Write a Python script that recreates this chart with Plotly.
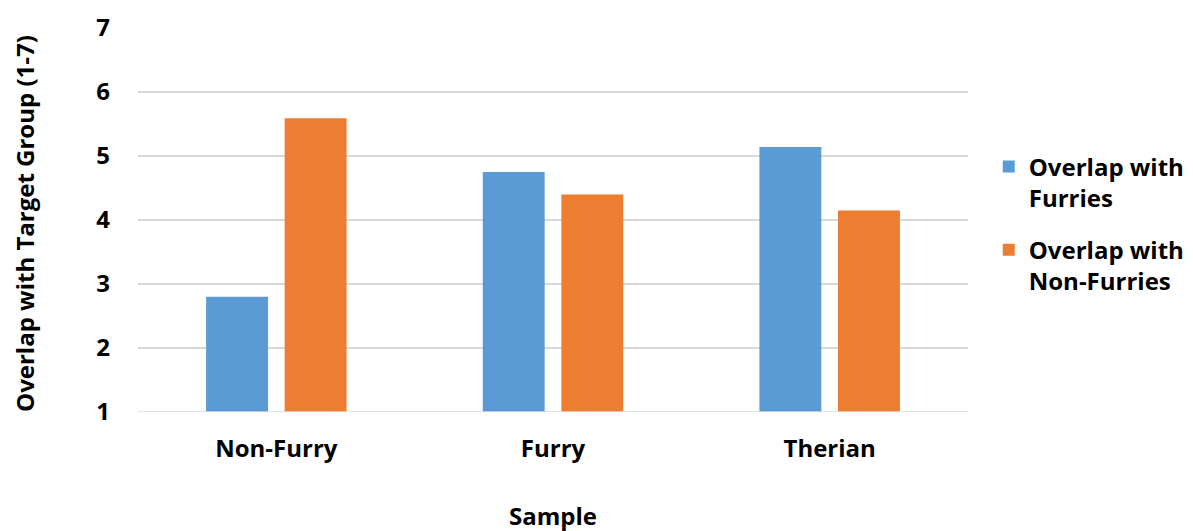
import plotly.graph_objects as go

categories = ["Non-Furry", "Furry", "Therian"]
overlap_furries = [2.8, 4.75, 5.14]
overlap_nonfurries = [5.59, 4.4, 4.15]
series_names = ["Overlap with<br>Furries", "Overlap with<br>Non-Furries"]
y_ticks = [1, 2, 3, 4, 5, 6, 7]

FONT = "Open Sans"
FS = 24
fig = go.Figure()
fig.add_trace(go.Bar(x=categories, y=overlap_furries, name=series_names[0], legendgroup="a",
                     marker=dict(color="#5B9BD5", line=dict(width=0))))
fig.add_trace(go.Bar(x=categories, y=overlap_nonfurries, name=series_names[1], legendgroup="b",
                     marker=dict(color="#ED7D31", line=dict(width=0))))

fig.update_layout(
    width=1185, height=523,
    margin=dict(l=130, r=225, t=20, b=119, autoexpand=False),
    paper_bgcolor="white", plot_bgcolor="white",
    barmode="group", bargap=0.432, bargroupgap=0.212,
    font=dict(family=FONT, color="black", size=FS, weight="bold"),
    legend=dict(x=1.025, xanchor="left", y=0.49, yanchor="middle",
                font=dict(size=FS, family=FONT, weight="bold"),
                traceorder="grouped", tracegroupgap=18, itemwidth=30, valign="top"),
    xaxis=dict(showgrid=False, showline=False, ticks="", automargin=False,
               tickfont=dict(size=FS, family=FONT, weight="bold"),
               ticklabelstandoff=20),
    yaxis=dict(range=[1, 7.0001], tickvals=y_ticks, showgrid=True, gridcolor="#d9d9d9", gridwidth=1.5,
               zeroline=False, showline=False, ticks="", automargin=False,
               tickfont=dict(size=FS, family=FONT, weight="bold"),
               ticklabelstandoff=27),
    annotations=[
        dict(text="Sample", xref="paper", yref="paper", x=0.5, y=-0.27, xanchor="center", yanchor="middle",
             showarrow=False, font=dict(size=FS, family=FONT, weight="bold")),
        dict(text="Overlap with Target Group (1-7)", xref="paper", yref="paper", x=-0.136, y=0.49,
             xanchor="center", yanchor="middle", textangle=-90,
             showarrow=False, font=dict(size=FS, family=FONT, weight="bold")),
    ],
)
fig.add_shape(type="line", xref="paper", yref="y", x0=0, x1=1, y0=1, y1=1,
              line=dict(color="#d9d9d9", width=1.5))

fig.write_html("out.html")
